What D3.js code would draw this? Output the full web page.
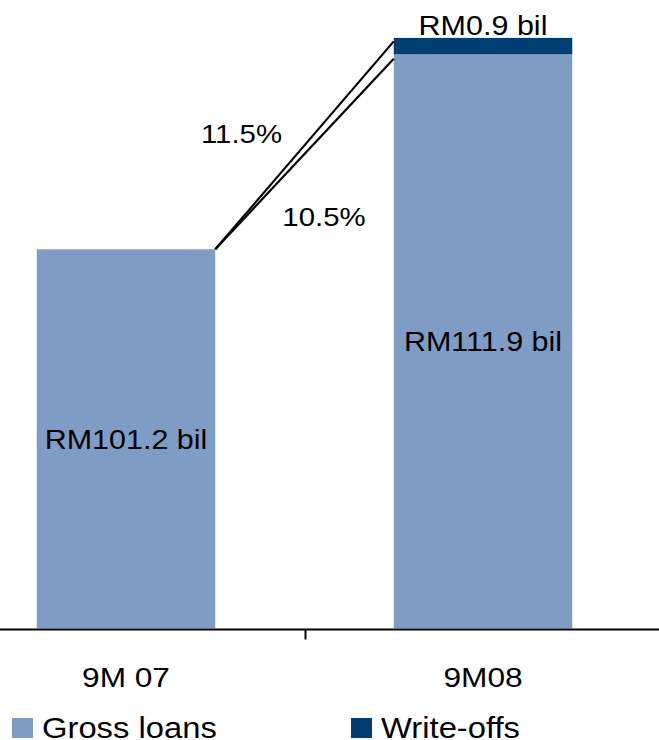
<!DOCTYPE html>
<html>
<head>
<meta charset="utf-8">
<script src="https://cdn.jsdelivr.net/npm/d3@7"></script>
<style>
  html, body { margin: 0; padding: 0; background: #fff; }
  svg { display: block; }
  text { font-family: "Liberation Sans", Arial, sans-serif; fill: #000; }
</style>
</head>
<body>
<svg id="chart" width="659" height="740"></svg>
<script>
// ---- data ----
const categories = ["9M 07", "9M08"];
const grossLoans = [101.2, 111.9];
const writeOffs = [0, 0.9];
const grossLabels = ["RM101.2 bil", "RM111.9 bil"];
const writeOffLabels = [null, "RM0.9 bil"];
const growthLabels = ["11.5%", "10.5%"];
const seriesNames = ["Gross loans", "Write-offs"];
const colors = ["#7f9cc5", "#003e73"];

const W = 659, H = 740;
const svg = d3.select("#chart");
const SX = 1.13; // horizontal text stretch

const x = d3.scaleBand().domain(categories).range([-52.5, 661.5])
  .paddingInner(0.5).paddingOuter(0.25);
const y = d3.scaleLinear().domain([80.4, 114.88]).range([628.3, 0]);

function txt(g, tx, ty, s, size, anchor) {
  return g.append("text")
    .attr("transform", `translate(${tx},${ty}) scale(${SX},1)`)
    .attr("text-anchor", anchor || "middle")
    .attr("font-size", size)
    .text(s);
}

// bars
const bars = svg.append("g");
categories.forEach((c, i) => {
  bars.append("rect")
    .attr("x", x(c)).attr("width", x.bandwidth())
    .attr("y", y(grossLoans[i])).attr("height", y.range()[0] - y(grossLoans[i]))
    .attr("fill", colors[0]);
  if (writeOffs[i] > 0) {
    bars.append("rect")
      .attr("x", x(c)).attr("width", x.bandwidth())
      .attr("y", y(grossLoans[i] + writeOffs[i]))
      .attr("height", y(grossLoans[i]) - y(grossLoans[i] + writeOffs[i]))
      .attr("fill", colors[1]);
  }
});

// connecting lines
const x0 = x(categories[0]) + x.bandwidth();
const y0 = y(grossLoans[0]);
const x1 = x(categories[1]);
const ends = [y(grossLoans[1] + writeOffs[1]) + 3.5, y(grossLoans[1]) + 4.5];
ends.forEach(ey => {
  svg.append("line").attr("x1", x0).attr("y1", y0).attr("x2", x1).attr("y2", ey)
    .attr("stroke", "#000").attr("stroke-width", 2.2);
});
// growth labels
const mx = (x0 + x1) / 2;
txt(svg, mx - 63, (y0 + ends[0]) / 2 - 2.5, growthLabels[0], 26);
txt(svg, mx + 19.5, (y0 + ends[1]) / 2 + 72, growthLabels[1], 26);

// value labels
categories.forEach((c, i) => {
  const cx = x(c) + x.bandwidth() / 2;
  const mid = (y(grossLoans[i]) + y.range()[0]) / 2;
  txt(svg, cx, mid + 10, grossLabels[i], 27);
  if (writeOffLabels[i]) {
    txt(svg, cx, y(grossLoans[i] + writeOffs[i]) - 3, writeOffLabels[i], 27);
  }
});

// x axis
const axisY = 629.5;
svg.append("line").attr("x1", 0).attr("x2", W).attr("y1", axisY).attr("y2", axisY)
  .attr("stroke", "#000").attr("stroke-width", 2);
const tickX = (x(categories[0]) + x.bandwidth() + x(categories[1])) / 2 + 1;
svg.append("line").attr("x1", tickX).attr("x2", tickX).attr("y1", axisY).attr("y2", axisY + 10)
  .attr("stroke", "#000").attr("stroke-width", 2);
categories.forEach(c => {
  txt(svg, x(c) + x.bandwidth() / 2, 687, c, 28);
});

// legend
const legendX = [12, 351];
seriesNames.forEach((s, i) => {
  svg.append("rect").attr("x", legendX[i]).attr("y", 718).attr("width", 21).attr("height", 20)
    .attr("fill", colors[i]);
  txt(svg, legendX[i] + 30, 738, s, 29, "start");
});
</script>
</body>
</html>
